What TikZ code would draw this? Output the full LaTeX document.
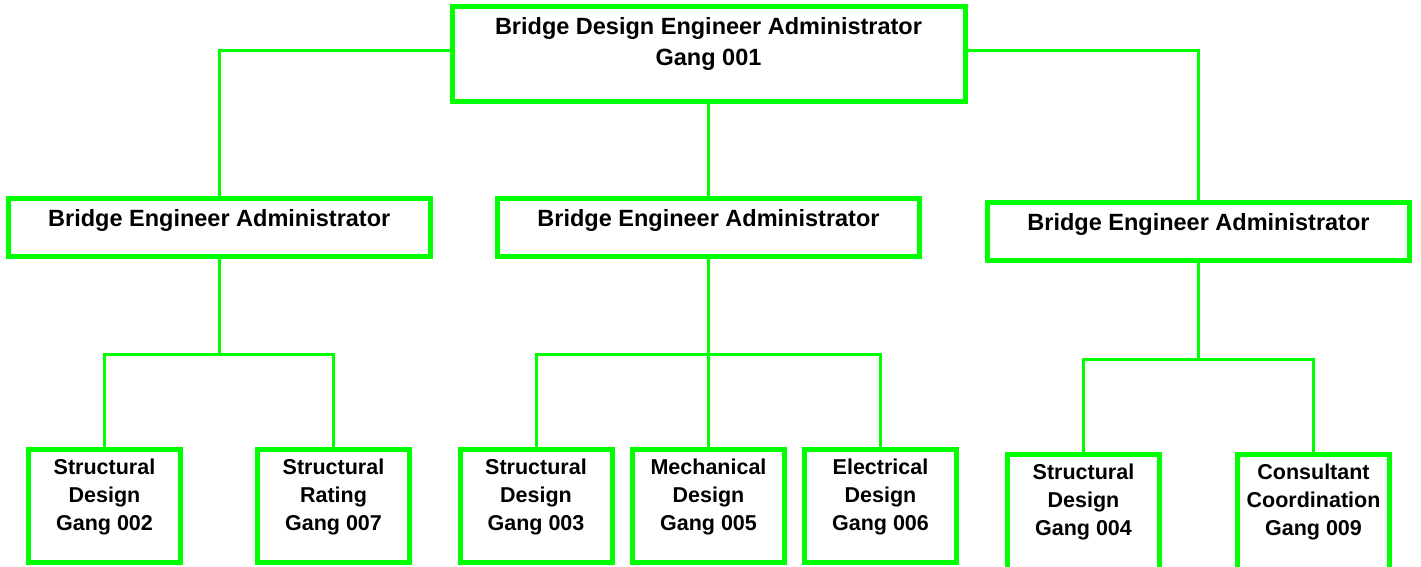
\documentclass[tikz,border=0pt]{standalone}
\usepackage{fontspec}
\setmainfont{Liberation Sans}
\usetikzlibrary{calc}
\definecolor{gangreen}{RGB}{0,255,0}

\begin{document}
\begin{tikzpicture}[x=1pt, y=-1pt,
	box/.style={draw=gangreen, line width=5pt, inner sep=0pt},
	topbox/.style={box, minimum width=513pt, minimum height=95pt},
	engbox/.style={box, minimum width=421.5pt, minimum height=58pt},
	gangbox/.style={box, minimum width=152pt, minimum height=113pt},
	link/.style={draw=gangreen, line width=3pt},
	bigtxt/.style={font=\bfseries\fontsize{23.5}{31}\selectfont, align=center, inner sep=0pt, anchor=base},
	smalltxt/.style={font=\bfseries\fontsize{21.5}{28}\selectfont, align=center, inner sep=0pt, anchor=base}]
			\useasboundingbox (0,0) rectangle (1421,567);

			\node[topbox] (g001) at (708.5,54.5) {};

			\node[engbox] (engL) at (219.25,227.5) {};
			\node[engbox] (engM) at (708.5,227.5) {};
			\node[engbox] (engR) at (1198.5,231) {};

			\node[gangbox] (g002) at (104.5,506) {};
			\node[gangbox] (g007) at (333.5,506) {};

			\node[gangbox] (g003) at (536,506) {};
			\node[gangbox] (g005) at (708.5,506) {};
			\node[gangbox] (g006) at (880.5,506) {};

			\node[gangbox, minimum height=118pt] (g004) at (1083.5,513.5) {};
			\node[gangbox, minimum height=118pt] (g009) at (1313.5,513.5) {};

			%texts (base = last line)
			\node[bigtxt] (t001) at ($(g001.north)+(0,61)$) {Bridge Design Engineer Administrator\\Gang 001};
			\node[bigtxt] (tengL) at ($(engL.north)+(0,30.5)$) {Bridge Engineer Administrator};
			\node[bigtxt] (tengM) at ($(engM.north)+(0,30.5)$) {Bridge Engineer Administrator};
			\node[bigtxt] (tengR) at ($(engR.north)+(0,30.5)$) {Bridge Engineer Administrator};

			\node[smalltxt] (t002) at ($(g002.north)+(0,83.5)$) {Structural\\Design\\Gang 002};
			\node[smalltxt] (t007) at ($(g007.north)+(0,83.5)$) {Structural\\Rating\\Gang 007};
			\node[smalltxt] (t003) at ($(g003.north)+(0,83.5)$) {Structural\\Design\\Gang 003};
			\node[smalltxt] (t005) at ($(g005.north)+(0,83.5)$) {Mechanical\\Design\\Gang 005};
			\node[smalltxt] (t006) at ($(g006.north)+(0,83.5)$) {Electrical\\Design\\Gang 006};
			\node[smalltxt] (t004) at ($(g004.north)+(0,83.5)$) {Structural\\Design\\Gang 004};
			\node[smalltxt] (t009) at ($(g009.north)+(0,83.5)$) {Consultant\\Coordination\\Gang 009};

			%connectors
			\coordinate (busL) at ($(engL.south)+(0,95.5)$);
			\coordinate (busM) at ($(engM.south)+(0,95.5)$);
			\coordinate (busR) at ($(engR.south)+(0,96.5)$);

			\draw[link] ([yshift=4pt]g001.west) -| (engL.north);
			\draw[link] ([yshift=4pt]g001.east) -| (engR.north);
			\draw[link] (g001.south) -- (engM.north);

			\draw[link] (engL.south) -- (busL);
			\draw[link] (g002.north) |- (busL) -| (g007.north);

			\draw[link] (engM.south) -- (g005.north);
			\draw[link] (g003.north) |- (busM) -| (g006.north);

			\draw[link] (engR.south) -- (busR);
			\draw[link] (g004.north) |- (busR) -| (g009.north);

		\end{tikzpicture}
\end{document}
